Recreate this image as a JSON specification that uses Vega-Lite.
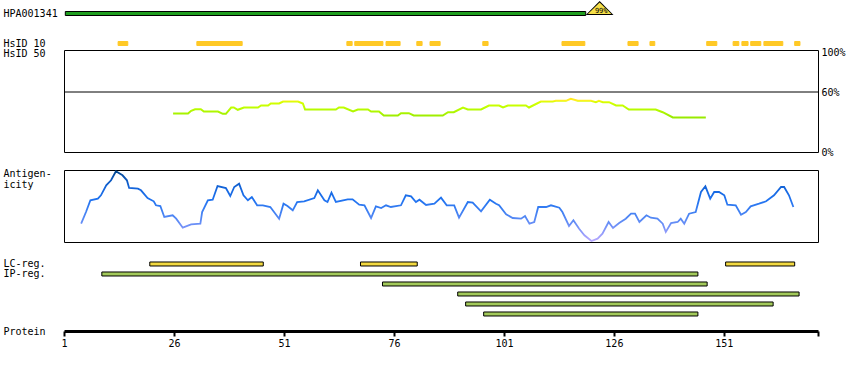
{
  "$schema": "https://vega.github.io/schema/vega-lite/v6.json",
  "padding": {"left": 2, "top": 0, "right": 0, "bottom": 0},
  "background": "white",
  "bounds": "flush",
  "spacing": 18,
  "config": {
    "view": {"stroke": null},
    "font": "DejaVu Sans Mono",
    "axis": {"labelFont": "DejaVu Sans Mono", "titleFont": "DejaVu Sans Mono", "labelFontSize": 10, "titleFontSize": 10, "labelColor": "#000", "titleColor": "#000", "titleFontWeight": "normal", "grid": false}
  },
  "datasets": {
    "antibody": [{"track": "HPA001341", "start": 1.3, "end": 119.6, "identity": "99%"}],
    "hsid10": [
      {"track": "HsID 10", "start": 13.3, "end": 15.5},
      {"track": "HsID 10", "start": 31.2, "end": 41.5},
      {"track": "HsID 10", "start": 65.3, "end": 66.5},
      {"track": "HsID 10", "start": 67.1, "end": 73.5},
      {"track": "HsID 10", "start": 74.2, "end": 77.4},
      {"track": "HsID 10", "start": 81.2, "end": 82.4},
      {"track": "HsID 10", "start": 84.2, "end": 86.5},
      {"track": "HsID 10", "start": 96.2, "end": 97.4},
      {"track": "HsID 10", "start": 114.2, "end": 119.4},
      {"track": "HsID 10", "start": 129.2, "end": 131.5},
      {"track": "HsID 10", "start": 134.2, "end": 135.3},
      {"track": "HsID 10", "start": 147.1, "end": 149.4},
      {"track": "HsID 10", "start": 153.1, "end": 154.4},
      {"track": "HsID 10", "start": 155.1, "end": 156.5},
      {"track": "HsID 10", "start": 157.1, "end": 159.4},
      {"track": "HsID 10", "start": 160.1, "end": 164.4},
      {"track": "HsID 10", "start": 167.1, "end": 168.3}
    ],
    "hsid50": [
      {"pos": 25.8, "pct": 38.5}, {"pos": 29.2, "pct": 38.5}, {"pos": 29.9, "pct": 41.2}, {"pos": 30.8, "pct": 42.8},
      {"pos": 32.1, "pct": 42.8}, {"pos": 32.8, "pct": 40.5}, {"pos": 36.0, "pct": 40.5}, {"pos": 37.1, "pct": 38.2},
      {"pos": 37.8, "pct": 38.2}, {"pos": 39.0, "pct": 44.5}, {"pos": 39.6, "pct": 44.5}, {"pos": 40.5, "pct": 42.2},
      {"pos": 41.9, "pct": 44.5}, {"pos": 45.1, "pct": 44.5}, {"pos": 45.8, "pct": 46.5}, {"pos": 47.4, "pct": 46.5},
      {"pos": 48.0, "pct": 48.5}, {"pos": 49.9, "pct": 48.5}, {"pos": 50.8, "pct": 50.5}, {"pos": 54.2, "pct": 50.5},
      {"pos": 55.3, "pct": 48.5}, {"pos": 55.8, "pct": 42.5}, {"pos": 62.8, "pct": 42.5}, {"pos": 63.5, "pct": 44.5},
      {"pos": 64.6, "pct": 44.5}, {"pos": 66.7, "pct": 40.5}, {"pos": 67.8, "pct": 42.5}, {"pos": 70.1, "pct": 42.5},
      {"pos": 70.8, "pct": 40.5}, {"pos": 72.6, "pct": 40.5}, {"pos": 73.7, "pct": 36.5}, {"pos": 76.9, "pct": 36.5},
      {"pos": 77.6, "pct": 38.8}, {"pos": 79.4, "pct": 38.8}, {"pos": 80.5, "pct": 36.5}, {"pos": 87.1, "pct": 36.5},
      {"pos": 88.3, "pct": 39.8}, {"pos": 89.6, "pct": 39.8}, {"pos": 91.7, "pct": 44.5}, {"pos": 92.8, "pct": 42.5},
      {"pos": 95.8, "pct": 42.5}, {"pos": 97.6, "pct": 46.5}, {"pos": 99.9, "pct": 46.5}, {"pos": 100.8, "pct": 44.5},
      {"pos": 101.9, "pct": 46.5}, {"pos": 106.0, "pct": 46.5}, {"pos": 106.7, "pct": 44.5}, {"pos": 109.4, "pct": 50.5},
      {"pos": 112.1, "pct": 50.5}, {"pos": 112.8, "pct": 51.2}, {"pos": 115.1, "pct": 51.2}, {"pos": 116.2, "pct": 53.2},
      {"pos": 117.8, "pct": 51.2}, {"pos": 120.8, "pct": 51.2}, {"pos": 121.9, "pct": 49.8}, {"pos": 122.6, "pct": 51.2},
      {"pos": 123.5, "pct": 49.8}, {"pos": 124.9, "pct": 49.8}, {"pos": 126.5, "pct": 46.5}, {"pos": 128.0, "pct": 46.5},
      {"pos": 129.4, "pct": 42.5}, {"pos": 135.5, "pct": 42.5}, {"pos": 137.1, "pct": 39.8}, {"pos": 139.4, "pct": 34.5},
      {"pos": 146.9, "pct": 34.5}
    ],
    "antigen": [
      {"pos": 4.9, "score": 18.3}, {"pos": 6.0, "score": 30}, {"pos": 7.0, "score": 41.7}, {"pos": 8.7, "score": 43.3},
      {"pos": 9.4, "score": 46.7}, {"pos": 10.6, "score": 56.7}, {"pos": 11.7, "score": 61.7}, {"pos": 12.8, "score": 70.7},
      {"pos": 14.3, "score": 66.7}, {"pos": 15.3, "score": 61.7}, {"pos": 15.8, "score": 54}, {"pos": 17.8, "score": 53.3},
      {"pos": 18.5, "score": 51.7}, {"pos": 20.0, "score": 44}, {"pos": 21.4, "score": 40.7}, {"pos": 21.9, "score": 36.7},
      {"pos": 22.9, "score": 36}, {"pos": 23.8, "score": 25}, {"pos": 25.7, "score": 26.7}, {"pos": 26.5, "score": 23.3},
      {"pos": 28.0, "score": 14.3}, {"pos": 29.9, "score": 17.7}, {"pos": 32.0, "score": 18.3}, {"pos": 32.4, "score": 30},
      {"pos": 33.7, "score": 41.7}, {"pos": 34.8, "score": 42.3}, {"pos": 35.9, "score": 56}, {"pos": 37.8, "score": 54},
      {"pos": 38.8, "score": 46}, {"pos": 39.7, "score": 55}, {"pos": 40.8, "score": 58.3}, {"pos": 41.8, "score": 46.7},
      {"pos": 42.8, "score": 41.7}, {"pos": 43.7, "score": 45}, {"pos": 44.9, "score": 36.7}, {"pos": 46.2, "score": 36.7},
      {"pos": 47.9, "score": 35}, {"pos": 49.9, "score": 23.3}, {"pos": 50.9, "score": 38.3}, {"pos": 51.8, "score": 36},
      {"pos": 53.0, "score": 31.7}, {"pos": 54.0, "score": 40}, {"pos": 55.6, "score": 40.7}, {"pos": 57.9, "score": 44},
      {"pos": 58.7, "score": 51.7}, {"pos": 60.2, "score": 41.7}, {"pos": 60.9, "score": 40}, {"pos": 61.8, "score": 49.3},
      {"pos": 62.8, "score": 40}, {"pos": 65.5, "score": 42.7}, {"pos": 66.6, "score": 42.7}, {"pos": 68.1, "score": 37.3},
      {"pos": 69.3, "score": 36.7}, {"pos": 70.8, "score": 24}, {"pos": 71.9, "score": 35.7}, {"pos": 73.1, "score": 34},
      {"pos": 74.2, "score": 36.7}, {"pos": 75.3, "score": 35}, {"pos": 77.6, "score": 36.7}, {"pos": 78.7, "score": 46.7},
      {"pos": 79.9, "score": 45.7}, {"pos": 81.0, "score": 40}, {"pos": 81.8, "score": 42.3}, {"pos": 83.3, "score": 37},
      {"pos": 85.2, "score": 38.3}, {"pos": 86.7, "score": 44.3}, {"pos": 88.0, "score": 36.7}, {"pos": 89.7, "score": 36.7},
      {"pos": 90.8, "score": 24.3}, {"pos": 92.8, "score": 40}, {"pos": 93.9, "score": 39.3}, {"pos": 95.8, "score": 30.7},
      {"pos": 97.8, "score": 42.3}, {"pos": 99.2, "score": 38.3}, {"pos": 99.9, "score": 36.7}, {"pos": 101.5, "score": 27.7},
      {"pos": 103.0, "score": 24}, {"pos": 104.9, "score": 23.3}, {"pos": 105.8, "score": 26}, {"pos": 106.8, "score": 18.3},
      {"pos": 107.9, "score": 20}, {"pos": 108.8, "score": 35}, {"pos": 110.6, "score": 35}, {"pos": 111.7, "score": 36.7},
      {"pos": 113.6, "score": 34.3}, {"pos": 114.3, "score": 30}, {"pos": 115.8, "score": 16}, {"pos": 116.8, "score": 21.7},
      {"pos": 118.1, "score": 13.3}, {"pos": 119.3, "score": 6.7}, {"pos": 120.9, "score": 1}, {"pos": 122.3, "score": 3.3},
      {"pos": 123.4, "score": 8.3}, {"pos": 124.8, "score": 20}, {"pos": 125.8, "score": 14}, {"pos": 127.2, "score": 19},
      {"pos": 128.7, "score": 23.3}, {"pos": 129.9, "score": 28.3}, {"pos": 130.8, "score": 28.3}, {"pos": 131.8, "score": 20},
      {"pos": 133.4, "score": 26.7}, {"pos": 134.4, "score": 24.3}, {"pos": 135.9, "score": 23.3}, {"pos": 137.1, "score": 18.3},
      {"pos": 137.8, "score": 10}, {"pos": 139.0, "score": 19}, {"pos": 140.5, "score": 20}, {"pos": 141.2, "score": 23.3},
      {"pos": 142.0, "score": 18.3}, {"pos": 143.1, "score": 28.3}, {"pos": 144.6, "score": 30}, {"pos": 145.8, "score": 50},
      {"pos": 146.8, "score": 55.7}, {"pos": 147.9, "score": 43.3}, {"pos": 148.8, "score": 50}, {"pos": 149.9, "score": 50},
      {"pos": 151.1, "score": 46.7}, {"pos": 151.8, "score": 37.3}, {"pos": 153.7, "score": 36.7}, {"pos": 154.9, "score": 27.3},
      {"pos": 156.0, "score": 30}, {"pos": 157.1, "score": 35.7}, {"pos": 159.0, "score": 38.3}, {"pos": 160.6, "score": 40.7},
      {"pos": 162.4, "score": 46.7}, {"pos": 164.0, "score": 55}, {"pos": 164.7, "score": 55}, {"pos": 165.8, "score": 46.7},
      {"pos": 166.8, "score": 35}
    ],
    "regions": [
      {"lane": "LC-reg.", "type": "LC", "start": 20.5, "end": 46.3},
      {"lane": "LC-reg.", "type": "LC", "start": 68.4, "end": 81.3},
      {"lane": "LC-reg.", "type": "LC", "start": 151.4, "end": 167.1},
      {"lane": "IP-reg.", "type": "IP", "start": 9.6, "end": 145.1},
      {"lane": "IP-reg.#2", "type": "IP", "start": 73.4, "end": 147.2},
      {"lane": "IP-reg.#3", "type": "IP", "start": 90.5, "end": 168.1},
      {"lane": "IP-reg.#4", "type": "IP", "start": 92.3, "end": 162.2},
      {"lane": "IP-reg.#5", "type": "IP", "start": 96.4, "end": 145.1}
    ]
  },
  "vconcat": [
    {
      "width": 754,
      "height": 30.5,
      "layer": [
        {
          "data": {"name": "antibody"},
          "mark": {"type": "bar", "fill": "#1f9e1f", "stroke": "#000", "strokeWidth": 1},
          "encoding": {
            "x": {"field": "start", "type": "quantitative", "scale": {"domain": [1, 172.4], "nice": false, "zero": false}, "axis": null},
            "x2": {"field": "end"},
            "y": {
              "field": "track", "type": "nominal",
              "scale": {"domain": ["HPA001341", "HsID 10"], "range": [0, 48.5], "round": false, "paddingInner": 0.8666667, "paddingOuter": 0.2416667, "align": 0.7241379},
              "axis": {"orient": "left", "title": null, "ticks": false, "tickSize": 0, "domain": false, "labelAlign": "left", "labelPadding": 61, "labelBaseline": "middle"}
            }
          }
        },
        {
          "data": {"name": "antibody"},
          "mark": {"type": "point", "shape": "M-1,0.5036L0,-0.5036L1,0.5036Z", "size": 773, "filled": true, "fill": "#000", "strokeWidth": 0, "opacity": 1, "xOffset": 13.9, "yOffset": -5.5},
          "encoding": {
            "x": {"field": "end", "type": "quantitative"},
            "y": {"field": "track", "type": "nominal"}
          }
        },
        {
          "data": {"name": "antibody"},
          "mark": {"type": "point", "shape": "M-1,0.4915L0,-0.4915L1,0.4915Z", "size": 557, "filled": true, "fill": "#f5df48", "strokeWidth": 0, "opacity": 1, "xOffset": 13.9, "yOffset": -5.3},
          "encoding": {
            "x": {"field": "end", "type": "quantitative"},
            "y": {"field": "track", "type": "nominal"}
          }
        },
        {
          "data": {"name": "antibody"},
          "mark": {"type": "text", "fontSize": 7, "font": "DejaVu Sans Mono", "color": "#000", "xOffset": 15.5, "yOffset": -3},
          "encoding": {
            "x": {"field": "end", "type": "quantitative"},
            "y": {"field": "track", "type": "nominal"},
            "text": {"field": "identity"}
          }
        },
        {
          "data": {"name": "hsid10"},
          "mark": {"type": "bar", "fill": "#ffc926", "stroke": "#ffc926", "strokeWidth": 1},
          "encoding": {
            "x": {"field": "start", "type": "quantitative"},
            "x2": {"field": "end"},
            "y": {"field": "track", "type": "nominal"}
          }
        }
      ]
    },
    {
      "width": 754,
      "height": 102,
      "view": {"stroke": "#000", "strokeWidth": 1},
      "layer": [
        {
          "data": {"name": "hsid50"},
          "mark": {
            "type": "line", "strokeWidth": 2,
            "stroke": {"gradient": "linear", "x1": 0, "y1": 0, "x2": 0, "y2": 1, "stops": [
              {"offset": 0, "color": "#ffe820"}, {"offset": 0.1, "color": "#fff020"}, {"offset": 0.16, "color": "#d8ff00"},
              {"offset": 0.45, "color": "#c0ff00"}, {"offset": 0.75, "color": "#aaf400"}, {"offset": 1, "color": "#98ea00"}
            ]}
          },
          "encoding": {
            "x": {"field": "pos", "type": "quantitative", "scale": {"domain": [1, 172.4], "nice": false, "zero": false}, "axis": null},
            "y": {
              "field": "pct", "type": "quantitative",
              "scale": {"domain": [0, 102], "nice": false, "zero": false},
              "axis": {"orient": "right", "values": [0, 60, 100], "labelExpr": "datum.value + '%'", "ticks": false, "tickSize": 0, "domain": false, "labelPadding": 3, "title": null, "labelBaseline": "middle", "labelFlush": false}
            }
          }
        },
        {
          "data": {"values": [{}]},
          "mark": {"type": "rule", "color": "#000", "strokeWidth": 1},
          "encoding": {
            "y": {"datum": 60, "type": "quantitative", "axis": {"orient": "left", "labels": false, "ticks": false, "tickSize": 0, "domain": false, "title": "HsID 50", "titleAngle": 0, "titleAlign": "left", "titleBaseline": "middle", "titleX": -61, "titleY": 3.5}}
          }
        }
      ],
      "resolve": {"axis": {"y": "independent"}}
    },
    {
      "width": 754,
      "height": 72,
      "view": {"stroke": "#000", "strokeWidth": 1},
      "data": {"name": "antigen"},
      "mark": {
        "type": "line", "strokeWidth": 1.8,
        "stroke": {"gradient": "linear", "x1": 0, "y1": 0, "x2": 0, "y2": 1, "stops": [
          {"offset": 0, "color": "#00448c"}, {"offset": 0.1, "color": "#0a55b8"}, {"offset": 0.25, "color": "#1566dd"},
          {"offset": 0.4, "color": "#1e72f0"}, {"offset": 0.55, "color": "#3a7ef2"}, {"offset": 0.7, "color": "#5a8af5"},
          {"offset": 0.82, "color": "#7c94f8"}, {"offset": 1, "color": "#b8a8ff"}
        ]}
      },
      "encoding": {
        "x": {"field": "pos", "type": "quantitative", "scale": {"domain": [1, 172.4], "nice": false, "zero": false}, "axis": null},
        "y": {
          "field": "score", "type": "quantitative",
          "scale": {"domain": [0, 72], "nice": false, "zero": false},
          "axis": {"labels": false, "ticks": false, "tickSize": 0, "domain": false, "grid": false, "title": ["Antigen-", "icity"], "titleAngle": 0, "titleAlign": "left", "titleBaseline": "alphabetic", "titleX": -61, "titleY": 6.5, "titleLineHeight": 10.5}
        }
      }
    },
    {
      "width": 754,
      "height": 60,
      "data": {"name": "regions"},
      "mark": {"type": "bar", "stroke": "#000", "strokeWidth": 1},
      "encoding": {
        "x": {
          "field": "start", "type": "quantitative",
          "scale": {"domain": [1, 172.4], "nice": false, "zero": false},
          "axis": {"values": [1, 26, 51, 76, 101, 126, 151, 172.4], "labelExpr": "datum.value > 170 ? '' : datum.label", "domainColor": "#000", "domainWidth": 3, "tickColor": "#000", "tickWidth": 2, "tickSize": 5, "offset": 11, "labelPadding": 2, "labelFlush": false, "title": "Protein", "titleAngle": 0, "titleAlign": "left", "titleBaseline": "middle", "titleX": -61, "titleY": 0, "grid": false}
        },
        "x2": {"field": "end"},
        "y": {
          "field": "lane", "type": "nominal",
          "scale": {"domain": ["LC-reg.", "IP-reg.", "IP-reg.#2", "IP-reg.#3", "IP-reg.#4", "IP-reg.#5"], "round": false, "paddingInner": 0.6, "paddingOuter": 0.3, "align": 0.3333},
          "axis": {"title": null, "ticks": false, "tickSize": 0, "domain": false, "labelAlign": "left", "labelPadding": 61, "labelBaseline": "middle", "labelExpr": "indexof(datum.value, '#') >= 0 ? '' : datum.value"}
        },
        "fill": {"field": "type", "type": "nominal", "scale": {"domain": ["LC", "IP"], "range": ["#f2d940", "#a2c95a"]}, "legend": null}
      }
    }
  ]
}
